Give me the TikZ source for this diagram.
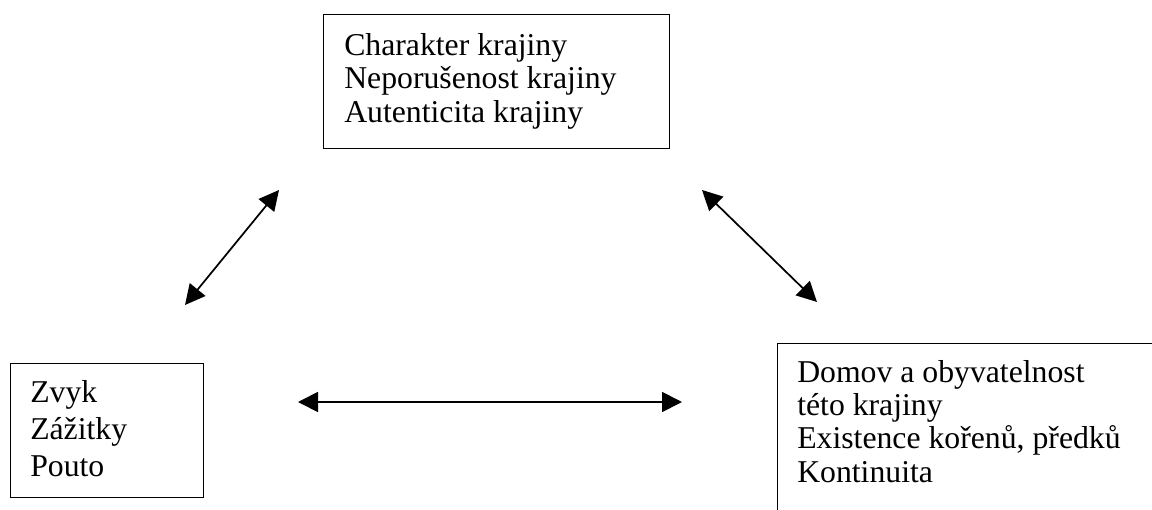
\documentclass[tikz,border=0pt]{standalone}
\usepackage{fontspec}
\setmainfont{Liberation Serif}
\usetikzlibrary{arrows.meta,positioning}

\tikzset{
    box/.style={draw, line width=0.9pt, anchor=north west, inner sep=0pt},
    lines/.style={align=left, anchor=base west, inner sep=0pt,
        font=\fontsize{23.8}{25}\selectfont},
    link/.style={{Triangle[length=15pt,width=15pt]}-{Triangle[length=15pt,width=15pt]}, line width=1.3pt}
}

\begin{document}
\begin{tikzpicture}[x=0.75pt,y=-0.75pt]
    \useasboundingbox (0,0) rectangle (1152,510);
    \clip (0,0) rectangle (1152,510);

    % boxes
    \node[box, minimum width=259.5pt, minimum height=100.5pt] (krajina) at (323,14) {};
    \node[box, minimum width=144.75pt, minimum height=100.5pt] (zvyk) at (10,363) {};
    \node[box, minimum width=300pt, minimum height=150pt] (domov) at (777,343) {};

    % texts (anchor = baseline of the last line)
    \node[lines] (krajinaText) at (344,122) {Charakter krajiny\\Neporušenost krajiny\\Autenticita krajiny};
    \node[lines, font=\fontsize{23.8}{27.4}\selectfont] (zvykText) at (30,476) {Zvyk\\Zážitky\\Pouto};
    \node[lines, font=\fontsize{23.8}{24.8}\selectfont] (domovText) at (797,482) {Domov a obyvatelnost\\této krajiny\\Existence kořenů, předků\\Kontinuita};

    % arrows
    \coordinate (leftLow) at (185,305);
    \coordinate (leftHigh) at (279,190);
    \coordinate (rightHigh) at (702,190);
    \coordinate (rightLow) at (817,302);
    \coordinate (midLeft) at (298,402);
    \coordinate (midRight) at (682,402);

    \draw[link] (leftLow) -- (leftHigh);
    \draw[link] (rightHigh) -- (rightLow);
    \draw[link] (midLeft) -- (midRight);
\end{tikzpicture}
\end{document}
